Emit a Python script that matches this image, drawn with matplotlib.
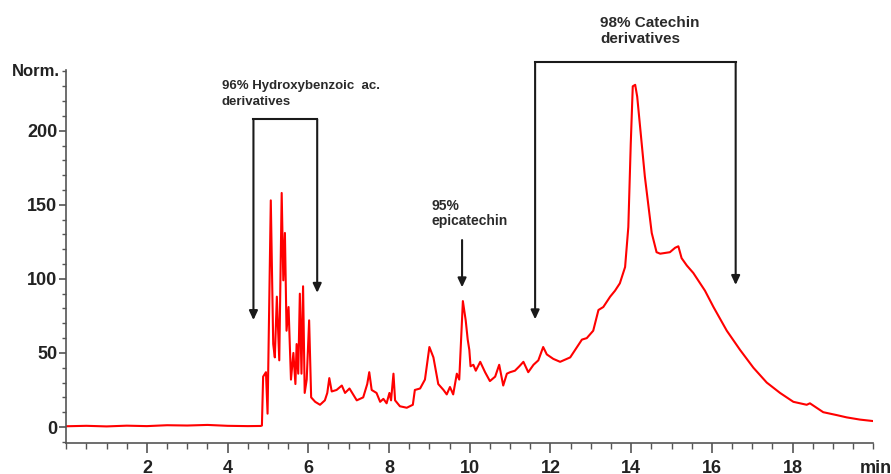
import matplotlib
matplotlib.use("Agg")
import matplotlib.pyplot as plt
from matplotlib.ticker import MultipleLocator

plt.rcParams["font.family"] = ["Liberation Sans", "DejaVu Sans"]
plt.rcParams["font.weight"] = "bold"

# Retention time (min) and normalised detector signal
retention_min = [
    0.00, 0.50, 1.00, 1.50, 2.00, 2.50, 3.00, 3.50, 4.00, 4.50,
    4.82, 4.85, 4.88, 4.95, 4.99, 5.07, 5.13, 5.17, 5.22, 5.28,
    5.34, 5.38, 5.42, 5.46, 5.51, 5.57, 5.63, 5.68, 5.71, 5.75,
    5.79, 5.83, 5.87, 5.91, 5.96, 6.02, 6.07, 6.17, 6.29, 6.41,
    6.47, 6.52, 6.58, 6.70, 6.83, 6.91, 7.02, 7.20, 7.36, 7.46,
    7.51, 7.57, 7.69, 7.78, 7.86, 7.94, 8.01, 8.05, 8.11, 8.15,
    8.27, 8.44, 8.59, 8.64, 8.77, 8.89, 9.00, 9.10, 9.22, 9.35,
    9.43, 9.51, 9.59, 9.68, 9.74, 9.83, 9.90, 9.95, 9.99, 10.02,
    10.09, 10.15, 10.26, 10.38, 10.50, 10.63, 10.73, 10.83, 10.92, 11.00,
    11.12, 11.23, 11.33, 11.45, 11.58, 11.70, 11.82, 11.91, 12.07, 12.24,
    12.49, 12.78, 12.90, 13.06, 13.19, 13.31, 13.48, 13.60, 13.72, 13.85,
    13.93, 13.99, 14.04, 14.10, 14.15, 14.22, 14.34, 14.43, 14.51, 14.63,
    14.72, 14.96, 15.09, 15.17, 15.25, 15.38, 15.54, 15.71, 15.83, 16.04,
    16.37, 16.70, 17.03, 17.36, 17.69, 18.02, 18.35, 18.43, 18.76, 19.10,
    19.34, 19.67, 20.00,
]
signal_norm = [
    0.5, 0.8, 0.4, 0.9, 0.6, 1.2, 1.0, 1.4, 0.8, 0.6,
    0.7, 1.0, 34, 37, 9, 153, 56, 47, 88, 45,
    158, 99, 131, 65, 81, 32, 50, 29, 56, 36,
    90, 36, 95, 23, 32, 72, 20, 17, 15, 18,
    23, 33, 24, 25, 28, 23, 26, 18, 20, 29,
    37, 25, 23, 17, 19, 16, 23, 18, 36, 18,
    14, 13, 15, 25, 26, 32, 54, 47, 29, 25,
    22, 27, 22, 36, 32, 85, 72, 59, 52, 41,
    42, 38, 44, 37, 31, 34, 42, 28, 36, 37,
    38, 41, 44, 37, 42, 45, 54, 49, 46, 44,
    47, 59, 60, 65, 79, 81, 88, 92, 97, 108,
    135, 191, 230, 231, 223, 203, 169, 149, 131, 118,
    117, 118, 121, 122, 114, 109, 104, 97, 92, 81,
    65, 52, 40, 30, 23, 17, 15, 16, 10, 8,
    6.5, 5, 4,
]

y_ticks = [0, 50, 100, 150, 200]
x_ticks = [2, 4, 6, 8, 10, 12, 14, 16, 18]

# Fraction groups: label lines, bracket span, bracket top, arrow tips
group_labels = [
    ["96% Hydroxybenzoic  ac.", "derivatives"],
    ["98% Catechin", "derivatives"],
]
group_span = [(4.64, 6.22), (11.62, 16.59)]
group_top = [207.7, 246.2]
group_tips = [(72.2, 90.6), (72.7, 95.9)]

single_label = ["95%", "epicatechin"]
single_x = 9.81
single_from, single_to = 126.2, 94.3

fig = plt.figure(figsize=(8.91, 4.74), dpi=100)
ax = fig.add_axes([0.0743, 0.0654, 0.9058, 0.7869])

ax.plot(retention_min, signal_norm, color="#ff0000", lw=1.5, solid_joinstyle="round")

ax.set_xlim(0, 20)
ax.set_ylim(-10.8, 241)

spine_c = "#555555"
for side in ("top", "right"):
    ax.spines[side].set_visible(False)
for side in ("left", "bottom"):
    ax.spines[side].set_color(spine_c)
    ax.spines[side].set_linewidth(1.2)

ax.set_xticks(x_ticks)
ax.set_yticks(y_ticks)
ax.xaxis.set_minor_locator(MultipleLocator(0.5))
ax.yaxis.set_minor_locator(MultipleLocator(10))
ax.tick_params(axis="x", which="major", length=7, width=1.2, color=spine_c,
               labelsize=13, pad=5, labelcolor="#222222")
ax.tick_params(axis="x", which="minor", length=4.5, width=1.0, color=spine_c)
ax.tick_params(axis="y", which="major", length=5, width=1.2, color=spine_c,
               labelsize=13, pad=1.5, labelcolor="#222222")
ax.tick_params(axis="y", which="minor", length=3, width=1.0, color=spine_c)
for lab in ax.get_xticklabels() + ax.get_yticklabels():
    lab.set_fontweight("bold")

fig.text(12 / 891, 1 - 76 / 474, "Norm.", fontsize=12, fontweight="bold",
         color="#222222", ha="left", va="baseline")
fig.text(860 / 891, 1 - 474 / 474 + 0.002, "min", fontsize=13, fontweight="bold",
         color="#222222", ha="left", va="baseline")

ink = "#1a1a1a"
arrow_style = dict(arrowstyle="-|>,head_length=0.6,head_width=0.28",
                   mutation_scale=9, lw=1.5, color=ink, shrinkA=0, shrinkB=0)

# Brackets with downward arrows
for (x0, x1), top, (t0, t1) in zip(group_span, group_top, group_tips):
    ax.plot([x0, x1], [top, top], color=ink, lw=1.5, clip_on=False,
            solid_capstyle="projecting")
    for x, tip in ((x0, t0), (x1, t1)):
        ax.annotate("", xy=(x, tip), xytext=(x, top), arrowprops=arrow_style,
                    annotation_clip=False)

ax.annotate("", xy=(single_x, single_to), xytext=(single_x, single_from),
            arrowprops=arrow_style, annotation_clip=False)

# Group labels (two baselines each)
label_specs = [
    (group_labels[0], 3.86, (228.0, 217.3), 9.5),
    (group_labels[1], 13.23, (270.2, 259.2), 11),
    (single_label, 9.06, (146.5, 136.3), 10),
]
for lines, x, bases, size in label_specs:
    for line, yb in zip(lines, bases):
        ax.text(x, yb, line, fontsize=size, fontweight="bold", color="#2a2a2a",
                ha="left", va="baseline", clip_on=False)

fig.savefig("out.png", dpi=100)
